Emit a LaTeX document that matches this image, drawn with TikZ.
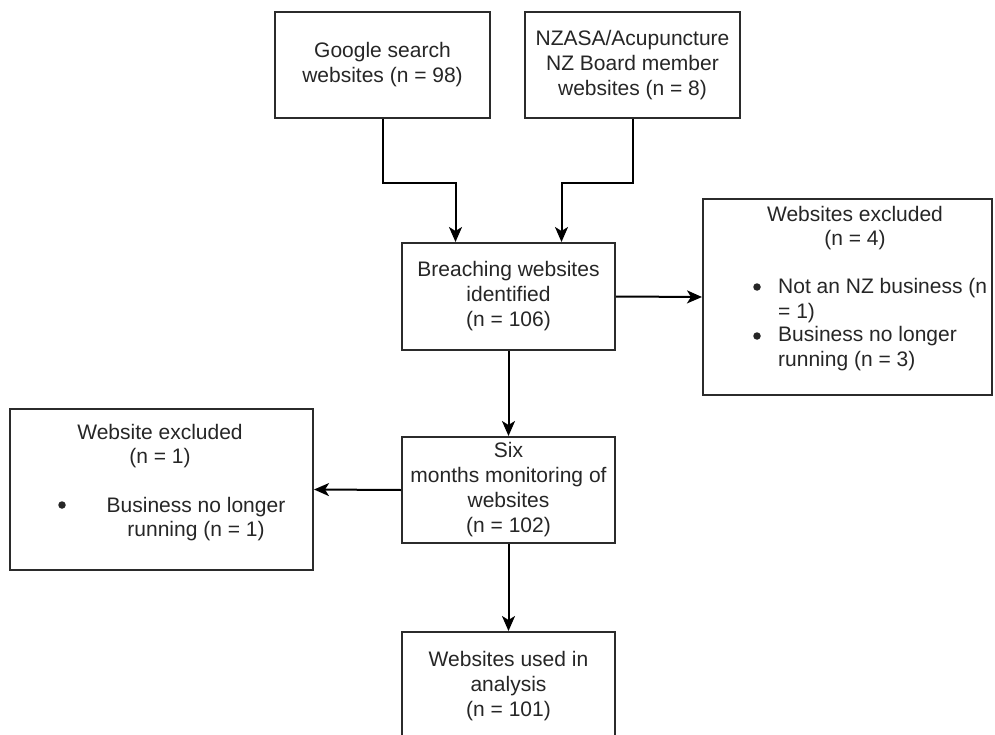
\documentclass[tikz,border=0pt]{standalone}
\usepackage{fontspec}
\setmainfont{Liberation Sans}
\usepackage{xcolor}
\definecolor{flowText}{HTML}{262626}
\definecolor{flowBorder}{HTML}{2B2B2B}
\definecolor{flowLine}{HTML}{000000}
\usetikzlibrary{arrows.meta,positioning,calc}
\tikzset{
    stage/.style={
        draw=flowBorder,
        fill=white,
        rectangle,
        line width=2pt,
        align=center,
        inner sep=0pt,
        text=flowText,
        font=\fontsize{21}{25}\selectfont
    },
    txt/.style={
        inner sep=0pt,
        align=center,
        text=flowText,
        font=\fontsize{21}{24.5}\selectfont
    },
    bullet/.style={
        circle,
        fill=flowText,
        inner sep=0pt,
        minimum size=7.5pt
    },
    arrow/.style={
        -{Stealth[length=15pt,width=13pt,inset=4pt]},
        line width=2pt,
        color=flowLine
    }
}

\begin{document}
\begin{tikzpicture}[x=1pt,y=-1pt]
    \useasboundingbox (0,0) rectangle (995,735);
    \clip (0,0) rectangle (995,735);

    % Sources
    \node[stage, minimum width=215pt, minimum height=106pt] (google) at (382.5,65) {Google search\\websites (n = 98)};
    \node[stage, minimum width=215pt, minimum height=106pt] (nzasa) at (632.5,65) {NZASA/Acupuncture\\NZ Board member\\websites (n = 8)};

    % Main flow
    \node[stage, minimum width=213pt, minimum height=107pt] (breach) at (508.5,296.5) {Breaching websites\\identified\\(n = 106)};
    \node[stage, minimum width=213pt, minimum height=106pt] (six) at (508.5,490) {Six\\months monitoring of\\websites\\(n = 102)};
    \node[stage, minimum width=213pt, minimum height=108pt] (used) at (508.5,686) {Websites used in\\analysis\\(n = 101)};

    % Exclusions
    \node[stage, minimum width=289pt, minimum height=196pt] (exright) at (847.5,297) {};
    \node[txt] (exrtitle) at (855,228) {Websites excluded\\(n = 4)};
    \node[bullet] (exrbula) at (757,287) {};
    \node[txt, anchor=west, align=left] (exritema) at (778,300.5) {Not an NZ business (n\\= 1)};
    \node[bullet] (exrbulb) at (757,336) {};
    \node[txt, anchor=west, align=left] (exritemb) at (778,348.5) {Business no longer\\running (n = 3)};

    \node[stage, minimum width=303pt, minimum height=161pt] (exleft) at (161.5,489.5) {};
    \node[txt] (exltitle) at (160,446) {Website excluded\\(n = 1)};
    \node[bullet] (exlbul) at (62,505) {};
    \node[txt] (exlitem) at (196,519) {Business no longer\\running (n = 1)};

    % Connectors
    \draw[arrow] (google.south) -- ++(0,64) -| ([xshift=-53pt]breach.north);
    \draw[arrow] (nzasa.south) -- ++(0,64) -| ([xshift=53pt]breach.north);
    \draw[arrow] (breach.east) -- (exright.west);
    \draw[arrow] (breach.south) -- (six.north);
    \draw[arrow] (six.west) -- (exleft.east);
    \draw[arrow] (six.south) -- (used.north);
\end{tikzpicture}
\end{document}
